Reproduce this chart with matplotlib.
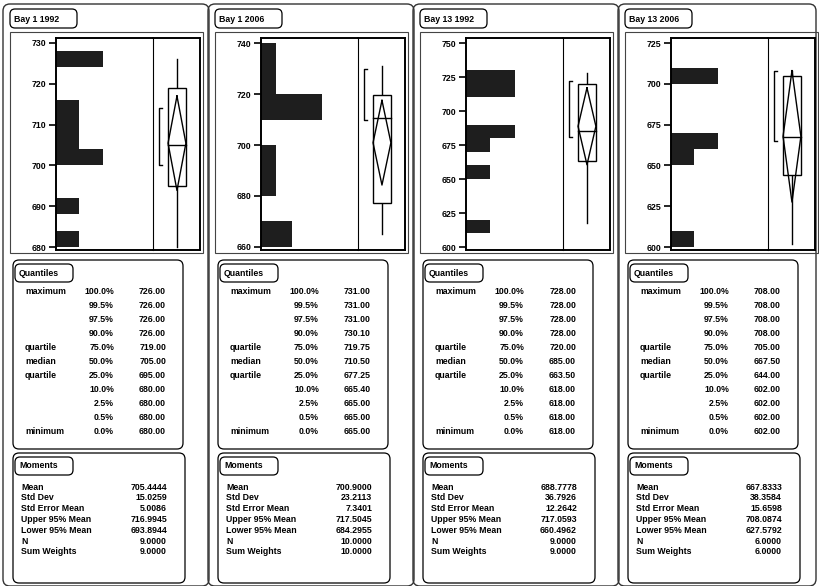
import matplotlib
matplotlib.use('Agg')
import matplotlib.pyplot as plt
from matplotlib.patches import FancyBboxPatch, Rectangle

plt.rcParams['font.family'] = ['Liberation Sans', 'DejaVu Sans']

# ---------------- data ----------------
titles = ['Bay 1 1992', 'Bay 1 2006', 'Bay 13 1992', 'Bay 13 2006']

# histogram bins: lower edge, upper edge, count
p1_bin_lo = [680, 688, 700, 704, 708, 712, 724]
p1_bin_hi = [684, 692, 704, 708, 712, 716, 728]
p1_counts = [1, 1, 2, 1, 1, 1, 2]

p2_bin_lo = [660, 680, 690, 710, 720, 730]
p2_bin_hi = [670, 690, 700, 720, 730, 740]
p2_counts = [2, 1, 1, 4, 1, 1]

p3_bin_lo = [610, 650, 670, 680, 710, 720]
p3_bin_hi = [620, 660, 680, 690, 720, 730]
p3_counts = [1, 1, 1, 2, 2, 2]

p4_bin_lo = [600, 650, 660, 700]
p4_bin_hi = [610, 660, 670, 710]
p4_counts = [1, 1, 2, 2]

# y-axis ticks
p1_yticks = [680, 690, 700, 710, 720, 730]
p2_yticks = [660, 680, 700, 720, 740]
p3_yticks = [600, 625, 650, 675, 700, 725, 750]
p4_yticks = [600, 625, 650, 675, 700, 725]

# quantiles table
quant_labels = ['maximum', '', '', '', 'quartile', 'median', 'quartile', '', '', '', 'minimum']
quant_pcts = ['100.0%', '99.5%', '97.5%', '90.0%', '75.0%', '50.0%', '25.0%',
              '10.0%', '2.5%', '0.5%', '0.0%']
p1_quant = [726.00, 726.00, 726.00, 726.00, 719.00, 705.00, 695.00, 680.00, 680.00, 680.00, 680.00]
p2_quant = [731.00, 731.00, 731.00, 730.10, 719.75, 710.50, 677.25, 665.40, 665.00, 665.00, 665.00]
p3_quant = [728.00, 728.00, 728.00, 728.00, 720.00, 685.00, 663.50, 618.00, 618.00, 618.00, 618.00]
p4_quant = [708.00, 708.00, 708.00, 708.00, 705.00, 667.50, 644.00, 602.00, 602.00, 602.00, 602.00]

# moments table
moment_labels = ['Mean', 'Std Dev', 'Std Error Mean', 'Upper 95% Mean',
                 'Lower 95% Mean', 'N', 'Sum Weights']
p1_moments = [705.4444, 15.0259, 5.0086, 716.9945, 693.8944, 9.0, 9.0]
p2_moments = [700.9000, 23.2113, 7.3401, 717.5045, 684.2955, 10.0, 10.0]
p3_moments = [688.7778, 36.7926, 12.2642, 717.0593, 660.4962, 9.0, 9.0]
p4_moments = [667.8333, 38.3584, 15.6598, 708.0874, 627.5792, 6.0, 6.0]

# shortest half bracket (low, high)
p1_short = [700, 714]
p2_short = [710, 730]
p3_short = [681, 722]
p4_short = [665, 708]

panels = [
    (p1_bin_lo, p1_bin_hi, p1_counts, p1_yticks, p1_quant, p1_moments, p1_short),
    (p2_bin_lo, p2_bin_hi, p2_counts, p2_yticks, p2_quant, p2_moments, p2_short),
    (p3_bin_lo, p3_bin_hi, p3_counts, p3_yticks, p3_quant, p3_moments, p3_short),
    (p4_bin_lo, p4_bin_hi, p4_counts, p4_yticks, p4_quant, p4_moments, p4_short),
]

# axis scale settings (layout)
ylims = [(679.3, 731.2), (658.8, 742.0), (597.8, 753.7), (598.2, 728.1)]
xmax = [4.16, 6.33, 4.0, 4.15]
offsets = [0, 205, 410, 615]

# ---------------- figure ----------------
W, H = 819, 586
fig = plt.figure(figsize=(W / 100, H / 100), dpi=100)
bg = fig.add_axes([0, 0, 1, 1])
bg.set_xlim(0, W)
bg.set_ylim(H, 0)
bg.axis('off')

FS = 6.3
BOLD = 'bold'


def rbox(x0, y0, x1, y1, r=5, lw=0.9, ec='black'):
    bg.add_patch(FancyBboxPatch((x0, y0), x1 - x0, y1 - y0,
                                boxstyle=f'round,pad=0,rounding_size={r}',
                                fc='none', ec=ec, lw=lw))


def fig_axes(x0, y0, x1, y1):
    return fig.add_axes([x0 / W, 1 - y1 / H, (x1 - x0) / W, (y1 - y0) / H])


for k, (blo, bhi, cnt, yt, qv, mv, sh) in enumerate(panels):
    off = offsets[k]
    # column frame
    rbox(off + 3, 4, min(off + 209, 816), 586, r=7, lw=1.0, ec='#333333')
    # title tab
    rbox(off + 10, 9, off + 77, 28, r=5, lw=0.9)
    bg.text(off + 14, 19, titles[k], fontsize=FS, fontweight=BOLD, va='center', ha='left')
    # graph outer rect
    bg.add_patch(Rectangle((off + 10, 32), 193, 221, fc='none', ec='#444444', lw=0.8))

    # histogram axes
    ax = fig_axes(off + 56, 38, off + 153, 250)
    heights = [h - l for l, h in zip(blo, bhi)]
    ax.barh(blo, cnt, height=heights, align='edge', color='#1e1e1e', edgecolor='none')
    ax.set_ylim(*ylims[k])
    ax.set_xlim(0, xmax[k])
    ax.set_yticks(yt)
    ax.set_yticklabels([str(t) for t in yt], fontsize=FS, fontweight=BOLD)
    ax.set_xticks([])
    ax.tick_params(axis='y', direction='out', length=5, width=1.2, pad=2)
    for s in ['left', 'top', 'bottom']:
        ax.spines[s].set_linewidth(1.4)
    ax.spines['right'].set_visible(False)
    ax.patch.set_alpha(0)

    # box plot axes
    bx = fig_axes(off + 153, 38, off + 200, 250)
    bx.set_ylim(*ylims[k])
    bx.set_xlim(0, 1)
    bx.set_xticks([])
    bx.set_yticks([])
    for s in ['top', 'right', 'bottom']:
        bx.spines[s].set_linewidth(1.4)
    bx.spines['left'].set_linewidth(0.8)
    bx.patch.set_alpha(0)

    vmax, q3, med, q1, vmin = qv[0], qv[4], qv[5], qv[6], qv[10]
    mean, up, lo = mv[0], mv[3], mv[4]
    c, hw = 0.51, 0.19
    lwb = 1.0
    # whiskers
    bx.plot([c, c], [q3, vmax], color='black', lw=lwb)
    bx.plot([c, c], [vmin, q1], color='black', lw=lwb)
    # box
    bx.add_patch(Rectangle((c - hw, q1), 2 * hw, q3 - q1, fc='white', ec='black', lw=lwb, zorder=2))
    # diamond
    bx.plot([c, c + hw, c, c - hw, c], [up, mean, lo, mean, up], color='black', lw=lwb, zorder=3)
    # median
    bx.plot([c - hw, c + hw], [med, med], color='black', lw=lwb, zorder=3)
    # shortest half bracket
    bx.plot([0.20, 0.13, 0.13, 0.20], [sh[1], sh[1], sh[0], sh[0]], color='black', lw=lwb)

    # quantiles box
    rbox(off + 13, 260, off + 183, 449, r=6, lw=0.9)
    rbox(off + 15, 264, off + 73, 282, r=5, lw=0.9)
    bg.text(off + 19, 273, 'Quantiles', fontsize=FS, fontweight=BOLD, va='center')
    for i in range(len(quant_pcts)):
        y = 292 + i * 13.9
        bg.text(off + 25, y, quant_labels[i], fontsize=FS, fontweight=BOLD, va='center', ha='left')
        bg.text(off + 114, y, quant_pcts[i], fontsize=FS, fontweight=BOLD, va='center', ha='right')
        bg.text(off + 166, y, f'{qv[i]:.2f}', fontsize=FS, fontweight=BOLD, va='center', ha='right')

    # moments box
    rbox(off + 13, 453, off + 185, 583, r=6, lw=0.9)
    rbox(off + 15, 457, off + 73, 475, r=5, lw=0.9)
    bg.text(off + 19, 466, 'Moments', fontsize=FS, fontweight=BOLD, va='center')
    for i in range(len(moment_labels)):
        y = 487 + i * 10.8
        bg.text(off + 21, y, moment_labels[i], fontsize=FS, fontweight=BOLD, va='center', ha='left')
        bg.text(off + 167, y, f'{mv[i]:.4f}', fontsize=FS, fontweight=BOLD, va='center', ha='right')

fig.savefig('out.png', dpi=100)
